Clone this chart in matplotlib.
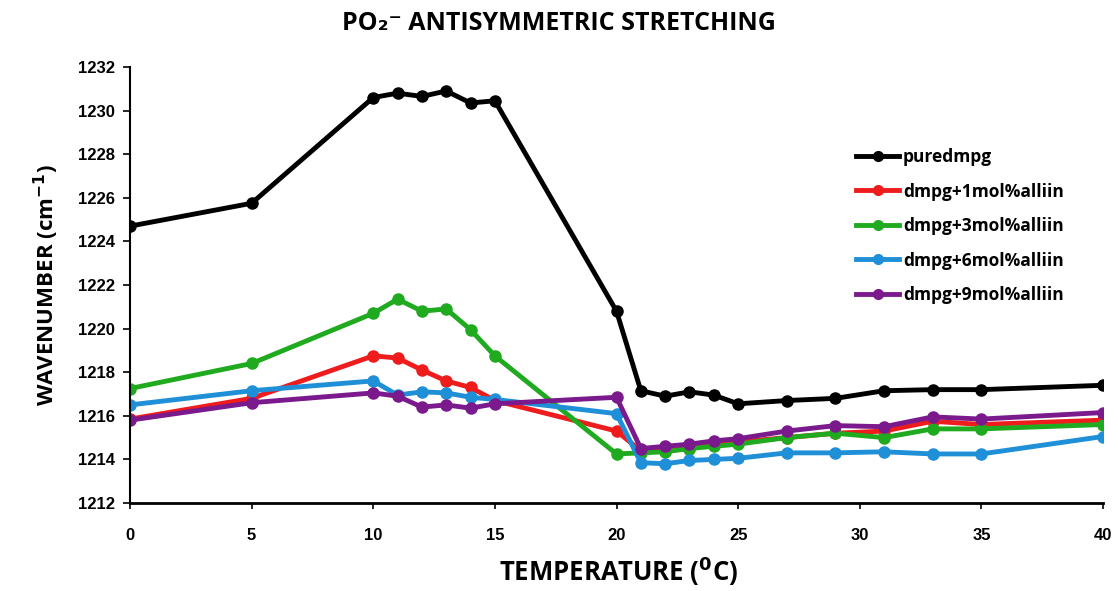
import numpy as np
import matplotlib
matplotlib.use("Agg")
from matplotlib import pyplot as plt

# temperatures (deg C)
temps = [0, 5, 10, 11, 12, 13, 14, 15, 20, 21, 22, 23, 24, 25, 27, 29, 31, 33, 35, 40]

puredmpg = [1224.7, 1225.75, 1230.6, 1230.8, 1230.65, 1230.9, 1230.35, 1230.45, 1220.8, 1217.15,
            1216.9, 1217.1, 1216.95, 1216.55, 1216.7, 1216.8, 1217.15, 1217.2, 1217.2, 1217.4]
alliin1 = [1215.85, 1216.8, 1218.75, 1218.65, 1218.1, 1217.6, 1217.3, 1216.7, 1215.3, 1214.4,
           1214.4, 1214.5, 1214.7, 1214.8, 1215.0, 1215.2, 1215.3, 1215.75, 1215.6, 1215.8]
alliin3 = [1217.25, 1218.4, 1220.7, 1221.35, 1220.8, 1220.9, 1219.95, 1218.75, 1214.25, 1214.3,
           1214.35, 1214.5, 1214.6, 1214.7, 1215.0, 1215.2, 1215.0, 1215.4, 1215.4, 1215.6]
alliin6 = [1216.5, 1217.15, 1217.6, 1216.95, 1217.1, 1217.05, 1216.85, 1216.75, 1216.1, 1213.85,
           1213.8, 1213.95, 1214.0, 1214.05, 1214.3, 1214.3, 1214.35, 1214.25, 1214.25, 1215.05]
alliin9 = [1215.8, 1216.6, 1217.05, 1216.9, 1216.4, 1216.5, 1216.35, 1216.55, 1216.85, 1214.5,
           1214.6, 1214.7, 1214.85, 1214.95, 1215.3, 1215.55, 1215.5, 1215.95, 1215.85, 1216.15]

series = [
    ("puredmpg", puredmpg, "black"),
    ("dmpg+1mol%alliin", alliin1, "#ee1c1c"),
    ("dmpg+3mol%alliin", alliin3, "#1faa1f"),
    ("dmpg+6mol%alliin", alliin6, "#1f8fd8"),
    ("dmpg+9mol%alliin", alliin9, "#7a1a8c"),
]

fig = plt.figure(figsize=(11.18, 5.91), dpi=100)
ax = fig.add_axes([130/1118, 1 - 503/591, (1103-130)/1118, (503-67)/591])

for name, vals, col in series:
    ax.plot(temps, vals, color=col, lw=3.5, marker="o", ms=8, label=name)

ax.set_xlim(0, 40)
ax.set_ylim(1212, 1232)
ax.set_xticks(np.arange(0, 41, 5))
ax.set_yticks(np.arange(1212, 1233, 2))
for s in ["top", "right"]:
    ax.spines[s].set_visible(False)
ax.spines["left"].set_linewidth(1.5)
ax.spines["bottom"].set_linewidth(2)
ax.tick_params(axis="y", direction="out", length=5, width=1.2, labelsize=12, pad=6)
ax.tick_params(axis="x", direction="out", length=4, width=1.2, labelsize=12, pad=14)
for lab in ax.get_xticklabels() + ax.get_yticklabels():
    lab.set_fontweight("bold")
    lab.set_family("Liberation Sans")

fig.text(0.5, 1 - 23/591, "PO₂⁻ ANTISYMMETRIC STRETCHING", ha="center", va="center",
         fontsize=18, fontweight="bold", family=["Open Sans", "DejaVu Sans"])
fig.text(619/1118, 1 - 571/591, r"TEMPERATURE ($^{\mathbf{0}}$C)", ha="center", va="center",
         fontsize=18.5, fontweight="bold", family="Open Sans")
ax.set_ylabel(r"WAVENUMBER (cm$^{\mathbf{-1}}$)", fontsize=16, fontweight="bold", family="Open Sans", labelpad=12)

leg = ax.legend(loc="upper left", bbox_to_anchor=(0.73, 0.85), frameon=False,
                prop={"weight": "bold", "size": 12.5, "family": "Open Sans"},
                handlelength=2.5, labelspacing=0.95, handletextpad=0.2)
for h in leg.legend_handles:
    h.set_markersize(7)

plt.savefig("out.png", dpi=100)
